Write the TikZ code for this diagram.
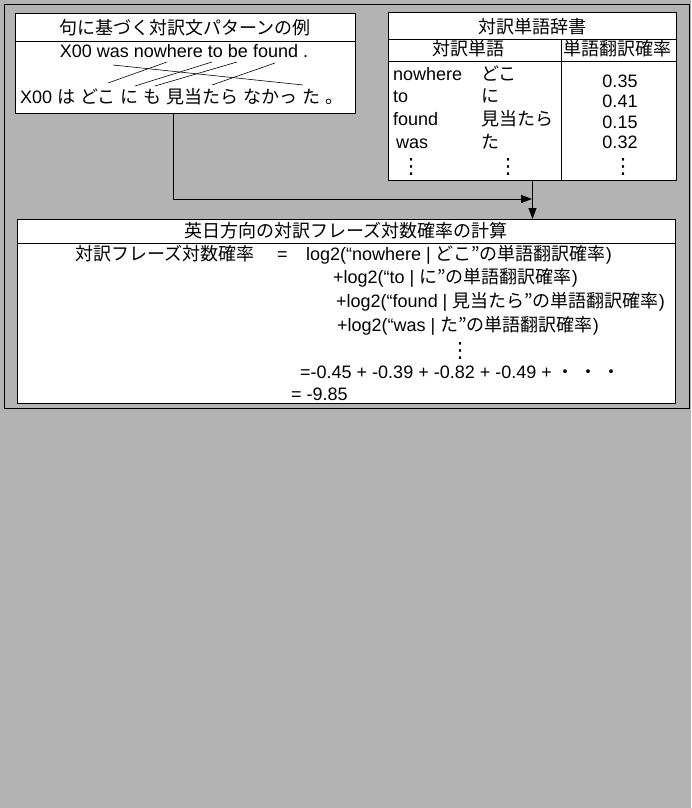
\documentclass[tikz,border=0pt]{standalone}
\usepackage{fontspec}
\setmainfont{Liberation Sans}
\newfontfamily\jp{Noto Sans CJK JP}
\newfontfamily\dv{DejaVu Sans}
\usetikzlibrary{arrows.meta}
\definecolor{bg}{RGB}{179,179,179}
\begin{document}
\begin{tikzpicture}[x=1pt,y=-1pt,
  font=\fontsize{18}{21}\selectfont,
  txt/.style={inner sep=0pt, anchor=base west},
  ctxt/.style={inner sep=0pt, anchor=base},
  vdots/.style={inner sep=0pt, anchor=center, font=\fontsize{21}{22}\selectfont\dv},
  box/.style={draw=black, fill=white, line width=1pt, inner sep=0pt, anchor=north west},
  sep/.style={line width=1pt},
  link/.style={line width=0.6pt},
  arr/.style={line width=1pt, -{Triangle[length=11pt,width=8pt]}}]
\fill[bg] (0,0) rectangle (691,808);
\useasboundingbox (0,0) rectangle (691,808);
\node[draw=black, line width=1pt, inner sep=0pt, anchor=north west,
      minimum width=685pt, minimum height=404pt] (frame) at (3.5,4) {};

% ---------- box 1 ----------
\node[box, minimum width=340pt, minimum height=100pt] (b1) at (15,13) {};
\draw[sep] (15,42) -- (355,42);
\node[ctxt] (t1) at (185,35) {\jp 句に基づく対訳文パターンの例};
\node[ctxt] (en) at (184,58) {X00 was nowhere to be found .};
\node[txt] (ja) at (20,103) {X00 {\jp は} {\jp どこ} {\jp に} {\jp も} {\jp 見当たら} {\jp なかっ} {\jp た} {\jp 。}};
\coordinate (e1) at (113,65); \coordinate (j1) at (303,85);
\coordinate (e2) at (167,62); \coordinate (j2) at (108,83);
\coordinate (e3) at (212,62); \coordinate (j3) at (135,86);
\coordinate (e4) at (237,62); \coordinate (j4) at (155,86);
\coordinate (e5) at (275,63); \coordinate (j5) at (212,85);
\draw[link] (e1) -- (j1);
\draw[link] (e2) -- (j2);
\draw[link] (e3) -- (j3);
\draw[link] (e4) -- (j4);
\draw[link] (e5) -- (j5);

% ---------- box 2 ----------
\node[box, minimum width=288pt, minimum height=168pt] (b2) at (388,12) {};
\draw[sep] (388,40) -- (676,40);
\draw[sep] (388,62) -- (676,62);
\draw[sep] (561,40) -- (561,180);
\node[ctxt] (t2) at (532,34) {\jp 対訳単語辞書};
\node[ctxt] (h1) at (468,56) {\jp 対訳単語};
\node[ctxt] (h2) at (617,56) {\jp 単語翻訳確率};
\node[txt] (w1) at (393,80) {nowhere};
\node[txt] (w2) at (393,102) {to};
\node[txt] (w3) at (393,125) {found};
\node[txt] (w4) at (396,148) {was};
\node[txt] (k1) at (481,80) {\jp どこ};
\node[txt] (k2) at (481,102) {\jp に};
\node[txt] (k3) at (481,125) {\jp 見当たら};
\node[txt] (k4) at (481,148) {\jp た};
\node[ctxt] (p1) at (620,87) {0.35};
\node[ctxt] (p2) at (620,107) {0.41};
\node[ctxt] (p3) at (620,128) {0.15};
\node[ctxt] (p4) at (620,148) {0.32};
\node[vdots] (d1) at (411,167) {⋮};
\node[vdots] (d2) at (508,167) {⋮};
\node[vdots] (d3) at (623,167) {⋮};

% ---------- box 3 ----------
\node[box, minimum width=658pt, minimum height=184pt] (b3) at (17,219) {};
\draw[sep] (17,243) -- (675,243);
\node[ctxt] (t3) at (346,237) {\jp 英日方向の対訳フレーズ対数確率の計算};
\node[txt] (l0) at (75,260) {\jp 対訳フレーズ対数確率};
\node[txt] (eq) at (277,260) {=};
\node[txt] (l1) at (306,260) {log2(“nowhere | {\jp どこ”の単語翻訳確率})};
\node[txt] (l2) at (333,283) {+log2(“to | {\jp に”の単語翻訳確率})};
\node[txt] (l3) at (336,307) {+log2(“found | {\jp 見当たら”の単語翻訳確率})};
\node[txt] (l4) at (337,331) {+log2(“was | {\jp た”の単語翻訳確率})};
\node[vdots] (d4) at (460,351) {⋮};
\node[txt] (l5) at (300,378) {=-0.45 + -0.39 + -0.82 + -0.49 + {\jp ・} {\jp ・} {\jp ・}};
\node[txt] (l6) at (291,400) {= -9.85};

% ---------- connectors ----------
\coordinate (c1) at (173,199);
\coordinate (c2) at (532,199);
\draw[arr] (b1.south -| c1) |- (c2);
\draw[arr] (b2.south) -- (b2.south |- b3.north);
\end{tikzpicture}
\end{document}
